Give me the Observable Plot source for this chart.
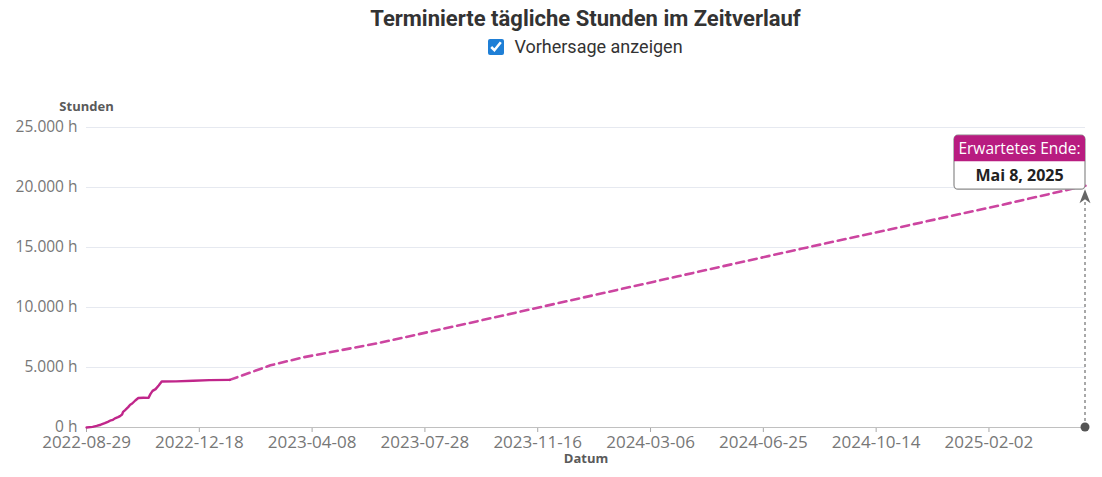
<!DOCTYPE html>
<html><head><meta charset="utf-8">
<script src="https://cdn.jsdelivr.net/npm/d3@7"></script>
<script src="https://cdn.jsdelivr.net/npm/@observablehq/plot@0.6"></script>
<style>
html,body{margin:0;padding:0;background:#fff;overflow:hidden;}
body{font-family:Roboto,"Noto Sans",sans-serif;width:1102px;}
#title{margin-left:86px;width:999px;height:36px;line-height:38px;text-align:center;font-size:22px;font-weight:700;color:#333;white-space:nowrap;}
#opt{margin-left:86px;width:999px;height:22px;line-height:22px;text-align:center;font-size:18px;color:#333;display:flex;justify-content:center;align-items:center;}
#opt input{width:16px;height:16px;margin:0 10px 0 0;accent-color:#1f7fd6;}
#chart svg{display:block;}
</style>
</head><body>
<div id="title"></div>
<div id="opt"><input type="checkbox" checked><span id="optlabel"></span></div>
<div id="chart"></div>
<script>
const titleText = "Terminierte tägliche Stunden im Zeitverlauf";
const optionText = "Vorhersage anzeigen";
const yLabel = "Stunden";
const xLabel = "Datum";
const endHeader = "Erwartetes Ende:";
const endText = "Mai 8, 2025";

const actualDates = ["2022-08-29","2022-09-04","2022-09-08","2022-09-12","2022-09-16","2022-09-19","2022-09-22","2022-09-24","2022-09-26","2022-09-29","2022-10-01","2022-10-03","2022-10-04","2022-10-06","2022-10-09","2022-10-11","2022-10-13","2022-10-16","2022-10-19","2022-10-24","2022-10-29","2022-10-31","2022-11-02","2022-11-05","2022-11-08","2022-11-11","2022-11-25","2022-12-12","2022-12-28","2023-01-17"];
const actualHours = [0,50,130,230,360,470,600,640,760,860,950,1080,1300,1450,1700,1900,2000,2250,2460,2480,2470,2800,3050,3200,3500,3830,3840,3890,3950,3970];

const forecastDates = ["2023-01-17","2023-02-26","2023-03-31","2023-06-12","2023-09-21","2024-04-01","2024-08-01","2025-02-12","2025-05-08"];
const forecastHours = [3970,5180,5860,7030,8920,12580,14890,18500,20150];

const xTicks = ["2022-08-29","2022-12-18","2023-04-08","2023-07-28","2023-11-16","2024-03-06","2024-06-25","2024-10-14","2025-02-02"];
const yTicks = [0,5000,10000,15000,20000,25000];

const endDate = "2025-05-08";
const endHours = 20150;

document.getElementById("title").textContent = titleText;
document.getElementById("optlabel").textContent = optionText;

const P = d3.utcParse("%Y-%m-%d");
const actual = actualDates.map((d,i)=>({date:P(d), h:actualHours[i]}));
const forecast = forecastDates.map((d,i)=>({date:P(d), h:forecastHours[i]}));
const de = d3.formatLocale({decimal:",", thousands:".", grouping:[3], currency:["","€"]});
const fmt = de.format(",d");
const lineColor = "#c0268a";

const plot = Plot.plot({
  width: 1102, height: 419,
  marginLeft: 86, marginRight: 17, marginTop: 69, marginBottom: 50,
  style: {fontFamily: "'Open Sans', sans-serif", fontSize: "15.5px", color: "#777", background: "#fff"},
  x: {type: "utc", domain: [P(xTicks[0]), P(endDate)]},
  y: {domain: [0, 25000]},
  marks: [
    Plot.gridY(yTicks.filter(d=>d>0), {stroke: "#e6e9f0", strokeOpacity: 1, strokeWidth: 1}),
    Plot.axisY(yTicks, {tickSize: 0, tickPadding: 9, tickFormat: d => fmt(d) + " h", label: null, fill: "#777", fontSize: 15.5}),
    Plot.axisX(xTicks.map(P), {tickSize: 5, tickPadding: 3, tickFormat: d3.utcFormat("%Y-%m-%d"), label: null, stroke: "#a8a8a8", fill: "#777", fontSize: 17}),
    Plot.ruleY([0], {stroke: "#c0c0c0", strokeWidth: 1.2}),
    Plot.line(forecast, {x: "date", y: "h", stroke: "#cc45a0", strokeWidth: 2.6, strokeDasharray: "8,5"}),
    Plot.line(actual, {x: "date", y: "h", stroke: lineColor, strokeWidth: 2.4}),
    Plot.text([yLabel], {frameAnchor: "top-left", dy: -26, text: d => d, textAnchor: "middle", fontWeight: "bold", fontSize: 13, fill: "#5a5a5a"}),
    Plot.text([xLabel], {frameAnchor: "bottom", dy: 35, text: d => d, textAnchor: "middle", fontWeight: "bold", fontSize: 13, fill: "#5a5a5a"})
  ]
});
document.getElementById("chart").appendChild(plot);

// annotation for the expected end, positioned through the plot's scales
const sx = plot.scale("x"), sy = plot.scale("y");
const xe = sx.apply(P(endDate)), ye = sy.apply(endHours), y0 = sy.apply(0);
const svg = d3.select(plot);
const g = svg.append("g");
const tipY = ye + 4;
g.append("line").attr("x1", xe).attr("x2", xe).attr("y1", y0).attr("y2", tipY + 12)
  .attr("stroke", "#7a7a7a").attr("stroke-width", 1.3).attr("stroke-dasharray", "3,3");
g.append("path").attr("d", `M${xe},${tipY} L${xe+5.5},${tipY+14} L${xe},${tipY+10} L${xe-5.5},${tipY+14} Z`).attr("fill", "#666");
g.append("circle").attr("cx", xe).attr("cy", y0).attr("r", 4.5).attr("fill", "#555");
const bw = 131, bx = xe - bw, bt = ye - 50, hh = 26, bb = ye + 4;
g.append("rect").attr("x", bx).attr("y", bt).attr("width", bw).attr("height", bb - bt).attr("rx", 4)
  .attr("fill", "#fff").attr("stroke", "#8a8a8a").attr("stroke-width", 1.2);
g.append("path").attr("d", `M${bx},${bt+hh} V${bt+4} Q${bx},${bt} ${bx+4},${bt} H${bx+bw-4} Q${bx+bw},${bt} ${bx+bw},${bt+4} V${bt+hh} Z`)
  .attr("fill", "#b81c80");
g.append("text").attr("x", bx + bw/2).attr("y", bt + hh/2).attr("dy", "0.35em").attr("text-anchor", "middle")
  .attr("fill", "#fff").attr("font-family", "'Open Sans', sans-serif").attr("font-size", 15.5).text(endHeader);
g.append("text").attr("x", bx + bw/2).attr("y", bt + hh + (bb - bt - hh)/2).attr("dy", "0.35em").attr("text-anchor", "middle")
  .attr("fill", "#222").attr("font-family", "'Open Sans', sans-serif").attr("font-weight", 700).attr("font-size", 16).text(endText);
</script>
</body></html>
